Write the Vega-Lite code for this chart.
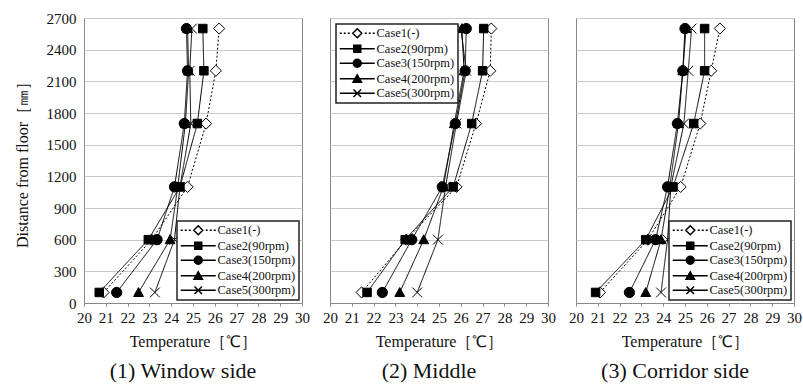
{
  "$schema": "https://vega.github.io/schema/vega-lite/v6.json",
  "background": "white",
  "padding": {"left": 13, "top": 10, "right": 2, "bottom": 0},
  "spacing": 28,
  "bounds": "flush",
  "config": {
    "font": "Liberation Serif",
    "view": {"stroke": "#888", "strokeWidth": 1},
    "axis": {"labelFont": "Liberation Serif", "labelFontSize": 15, "labelColor": "#111", "titleFont": "Liberation Serif", "titleFontSize": 16, "titleFontWeight": "normal", "titleColor": "#111", "labelOverlap": false, "labelFlush": false},
    "legend": {"strokeColor": "#222", "strokeWidth": 1.5, "fillColor": "white", "padding": 3},
    "title": {"font": "Liberation Serif", "fontSize": 22, "fontWeight": "normal", "color": "#111", "dx": -10}
  },
  "data": {"values": [
    {"panel": "W", "case": "Case1(-)", "dist": 100, "temp": 20.9},
    {"panel": "W", "case": "Case1(-)", "dist": 600, "temp": 23.1},
    {"panel": "W", "case": "Case1(-)", "dist": 1100, "temp": 24.75},
    {"panel": "W", "case": "Case1(-)", "dist": 1700, "temp": 25.6},
    {"panel": "W", "case": "Case1(-)", "dist": 2200, "temp": 26.05},
    {"panel": "W", "case": "Case1(-)", "dist": 2600, "temp": 26.2},
    {"panel": "W", "case": "Case2(90rpm)", "dist": 100, "temp": 20.7},
    {"panel": "W", "case": "Case2(90rpm)", "dist": 600, "temp": 22.95},
    {"panel": "W", "case": "Case2(90rpm)", "dist": 1100, "temp": 24.4},
    {"panel": "W", "case": "Case2(90rpm)", "dist": 1700, "temp": 25.2},
    {"panel": "W", "case": "Case2(90rpm)", "dist": 2200, "temp": 25.5},
    {"panel": "W", "case": "Case2(90rpm)", "dist": 2600, "temp": 25.45},
    {"panel": "W", "case": "Case3(150rpm)", "dist": 100, "temp": 21.5},
    {"panel": "W", "case": "Case3(150rpm)", "dist": 600, "temp": 23.35},
    {"panel": "W", "case": "Case3(150rpm)", "dist": 1100, "temp": 24.15},
    {"panel": "W", "case": "Case3(150rpm)", "dist": 1700, "temp": 24.6},
    {"panel": "W", "case": "Case3(150rpm)", "dist": 2200, "temp": 24.75},
    {"panel": "W", "case": "Case3(150rpm)", "dist": 2600, "temp": 24.7},
    {"panel": "W", "case": "Case4(200rpm)", "dist": 100, "temp": 22.5},
    {"panel": "W", "case": "Case4(200rpm)", "dist": 600, "temp": 23.95},
    {"panel": "W", "case": "Case4(200rpm)", "dist": 1100, "temp": 24.3},
    {"panel": "W", "case": "Case4(200rpm)", "dist": 1700, "temp": 24.65},
    {"panel": "W", "case": "Case4(200rpm)", "dist": 2200, "temp": 24.8},
    {"panel": "W", "case": "Case4(200rpm)", "dist": 2600, "temp": 24.75},
    {"panel": "W", "case": "Case5(300rpm)", "dist": 100, "temp": 23.25},
    {"panel": "W", "case": "Case5(300rpm)", "dist": 600, "temp": 24.15},
    {"panel": "W", "case": "Case5(300rpm)", "dist": 1100, "temp": 24.4},
    {"panel": "W", "case": "Case5(300rpm)", "dist": 1700, "temp": 24.9},
    {"panel": "W", "case": "Case5(300rpm)", "dist": 2200, "temp": 24.85},
    {"panel": "W", "case": "Case5(300rpm)", "dist": 2600, "temp": 24.95},
    {"panel": "M", "case": "Case1(-)", "dist": 100, "temp": 21.45},
    {"panel": "M", "case": "Case1(-)", "dist": 600, "temp": 23.5},
    {"panel": "M", "case": "Case1(-)", "dist": 1100, "temp": 25.8},
    {"panel": "M", "case": "Case1(-)", "dist": 1700, "temp": 26.7},
    {"panel": "M", "case": "Case1(-)", "dist": 2200, "temp": 27.35},
    {"panel": "M", "case": "Case1(-)", "dist": 2600, "temp": 27.4},
    {"panel": "M", "case": "Case2(90rpm)", "dist": 100, "temp": 21.7},
    {"panel": "M", "case": "Case2(90rpm)", "dist": 600, "temp": 23.45},
    {"panel": "M", "case": "Case2(90rpm)", "dist": 1100, "temp": 25.65},
    {"panel": "M", "case": "Case2(90rpm)", "dist": 1700, "temp": 26.5},
    {"panel": "M", "case": "Case2(90rpm)", "dist": 2200, "temp": 27.0},
    {"panel": "M", "case": "Case2(90rpm)", "dist": 2600, "temp": 27.05},
    {"panel": "M", "case": "Case3(150rpm)", "dist": 100, "temp": 22.4},
    {"panel": "M", "case": "Case3(150rpm)", "dist": 600, "temp": 23.75},
    {"panel": "M", "case": "Case3(150rpm)", "dist": 1100, "temp": 25.15},
    {"panel": "M", "case": "Case3(150rpm)", "dist": 1700, "temp": 25.75},
    {"panel": "M", "case": "Case3(150rpm)", "dist": 2200, "temp": 26.2},
    {"panel": "M", "case": "Case3(150rpm)", "dist": 2600, "temp": 26.25},
    {"panel": "M", "case": "Case4(200rpm)", "dist": 100, "temp": 23.2},
    {"panel": "M", "case": "Case4(200rpm)", "dist": 600, "temp": 24.3},
    {"panel": "M", "case": "Case4(200rpm)", "dist": 1100, "temp": 25.2},
    {"panel": "M", "case": "Case4(200rpm)", "dist": 1700, "temp": 25.7},
    {"panel": "M", "case": "Case4(200rpm)", "dist": 2200, "temp": 26.15},
    {"panel": "M", "case": "Case4(200rpm)", "dist": 2600, "temp": 26.05},
    {"panel": "M", "case": "Case5(300rpm)", "dist": 100, "temp": 24.0},
    {"panel": "M", "case": "Case5(300rpm)", "dist": 600, "temp": 24.95},
    {"panel": "M", "case": "Case5(300rpm)", "dist": 1100, "temp": 25.3},
    {"panel": "M", "case": "Case5(300rpm)", "dist": 1700, "temp": 25.8},
    {"panel": "M", "case": "Case5(300rpm)", "dist": 2200, "temp": 26.25},
    {"panel": "M", "case": "Case5(300rpm)", "dist": 2600, "temp": 26.0},
    {"panel": "C", "case": "Case1(-)", "dist": 100, "temp": 21.1},
    {"panel": "C", "case": "Case1(-)", "dist": 600, "temp": 23.3},
    {"panel": "C", "case": "Case1(-)", "dist": 1100, "temp": 24.8},
    {"panel": "C", "case": "Case1(-)", "dist": 1700, "temp": 25.7},
    {"panel": "C", "case": "Case1(-)", "dist": 2200, "temp": 26.2},
    {"panel": "C", "case": "Case1(-)", "dist": 2600, "temp": 26.6},
    {"panel": "C", "case": "Case2(90rpm)", "dist": 100, "temp": 20.9},
    {"panel": "C", "case": "Case2(90rpm)", "dist": 600, "temp": 23.2},
    {"panel": "C", "case": "Case2(90rpm)", "dist": 1100, "temp": 24.45},
    {"panel": "C", "case": "Case2(90rpm)", "dist": 1700, "temp": 25.4},
    {"panel": "C", "case": "Case2(90rpm)", "dist": 2200, "temp": 25.9},
    {"panel": "C", "case": "Case2(90rpm)", "dist": 2600, "temp": 25.9},
    {"panel": "C", "case": "Case3(150rpm)", "dist": 100, "temp": 22.45},
    {"panel": "C", "case": "Case3(150rpm)", "dist": 600, "temp": 23.65},
    {"panel": "C", "case": "Case3(150rpm)", "dist": 1100, "temp": 24.2},
    {"panel": "C", "case": "Case3(150rpm)", "dist": 1700, "temp": 24.65},
    {"panel": "C", "case": "Case3(150rpm)", "dist": 2200, "temp": 24.9},
    {"panel": "C", "case": "Case3(150rpm)", "dist": 2600, "temp": 25.0},
    {"panel": "C", "case": "Case4(200rpm)", "dist": 100, "temp": 23.2},
    {"panel": "C", "case": "Case4(200rpm)", "dist": 600, "temp": 23.9},
    {"panel": "C", "case": "Case4(200rpm)", "dist": 1100, "temp": 24.3},
    {"panel": "C", "case": "Case4(200rpm)", "dist": 1700, "temp": 24.7},
    {"panel": "C", "case": "Case4(200rpm)", "dist": 2200, "temp": 24.9},
    {"panel": "C", "case": "Case4(200rpm)", "dist": 2600, "temp": 25.05},
    {"panel": "C", "case": "Case5(300rpm)", "dist": 100, "temp": 23.9},
    {"panel": "C", "case": "Case5(300rpm)", "dist": 600, "temp": 24.2},
    {"panel": "C", "case": "Case5(300rpm)", "dist": 1100, "temp": 24.35},
    {"panel": "C", "case": "Case5(300rpm)", "dist": 1700, "temp": 24.95},
    {"panel": "C", "case": "Case5(300rpm)", "dist": 2200, "temp": 25.15},
    {"panel": "C", "case": "Case5(300rpm)", "dist": 2600, "temp": 25.3}
  ]},
  "hconcat": [
    {
      "width": 218, "height": 285,
      "title": {"text": "(1)  Window side", "orient": "bottom", "offset": 12},
      "transform": [{"filter": "datum.panel === 'W'"}],
      "encoding": {
        "x": {"field": "temp", "type": "quantitative", "scale": {"domain": [20, 30]}, "axis": {"values": [20,21,22,23,24,25,26,27,28,29,30], "format": "d", "labelOverlap": false, "labelFlush": false, "labelFont": "Liberation Serif", "labelFontSize": 15, "title": "Temperature［℃］", "titleFont": "Liberation Serif", "titleFontSize": 16, "grid": false, "tickSize": 3, "tickColor": "#888", "domainColor": "#888", "labelPadding": 4, "titlePadding": 8}},
        "y": {"field": "dist", "type": "quantitative", "scale": {"domain": [0, 2700]}, "axis": {"values": [0,300,600,900,1200,1500,1800,2100,2400,2700], "format": "d", "labelOverlap": false, "labelFlush": false, "labelFont": "Liberation Serif", "labelFontSize": 15, "title": "Distance from floor［㎜］", "titleFont": "Liberation Serif", "titleFontSize": 16, "ticks": false, "domain": false, "labelPadding": 8, "titlePadding": 16, "grid": true, "gridColor": "#c8c8c8"}}
      },
      "resolve": {"scale": {"shape": "independent", "fill": "independent"}},
      "layer": [
        {
          "mark": {"type": "line", "color": "black", "strokeWidth": 1},
          "encoding": {
            "detail": {"field": "case"},
            "strokeDash": {"field": "case", "type": "nominal", "scale": {"domain": ["Case1(-)", "Case2(90rpm)", "Case3(150rpm)", "Case4(200rpm)", "Case5(300rpm)"], "range": [[2,2],[1,0],[1,0],[1,0],[1,0]]}, "legend": null},
            "order": {"field": "dist", "type": "quantitative"}
          }
        },
        {
          "mark": {"type": "point", "filled": true, "size": 80, "stroke": "black", "strokeWidth": 1, "opacity": 1},
          "encoding": {
            "shape": {"field": "case", "type": "nominal", "scale": {"domain": ["Case1(-)", "Case2(90rpm)", "Case3(150rpm)", "Case4(200rpm)", "Case5(300rpm)"], "range": ["M0,-1.25L1.25,0L0,1.25L-1.25,0Z", "M-0.95,-0.95L0.95,-0.95L0.95,0.95L-0.95,0.95Z", "M-1.15,0A1.15,1.15,0,1,0,1.15,0A1.15,1.15,0,1,0,-1.15,0Z", "M0,-1.1L1.1,0.9L-1.1,0.9Z", "M-1.1,-1.1L1.1,1.1M-1.1,1.1L1.1,-1.1"]}, "legend": null},
            "fill": {"field": "case", "type": "nominal", "scale": {"domain": ["Case1(-)", "Case2(90rpm)", "Case3(150rpm)", "Case4(200rpm)", "Case5(300rpm)"], "range": ["white", "black", "black", "black", "black"]}, "legend": null}
          }
        },
        {
          "transform": [{"filter": "false"}],
          "mark": {"type": "point", "filled": true, "size": 100, "stroke": "black", "strokeWidth": 1, "opacity": 1},
          "encoding": {
            "shape": {"field": "case", "type": "nominal", "scale": {"domain": ["Case1(-)", "Case2(90rpm)", "Case3(150rpm)", "Case4(200rpm)", "Case5(300rpm)"], "range": ["M-3.5,0L-3.1,0M-2.7,0L-2.3,0M-1.9,0L-1.5,0M0,-0.9L0.9,0L0,0.9L-0.9,0ZM1.5,0L1.9,0M2.3,0L2.7,0M3.1,0L3.5,0", "M-3.5,0L3.5,0M-0.7,-0.7L0.7,-0.7L0.7,0.7L-0.7,0.7Z", "M-3.5,0L3.5,0M-0.8,0A0.8,0.8,0,1,0,0.8,0A0.8,0.8,0,1,0,-0.8,0Z", "M-3.5,0L3.5,0M0,-0.8L0.85,0.7L-0.85,0.7Z", "M-3.5,0L3.5,0M-0.75,-0.75L0.75,0.75M-0.75,0.75L0.75,-0.75"]},
              "legend": {"title": null, "orient": "bottom-right", "offset": 3, "labelFont": "Liberation Serif", "labelFontSize": 12.5, "labelColor": "#111", "symbolSize": 100, "symbolOffset": 12, "labelOffset": 13, "rowPadding": 0.5, "encode": {"symbols": {"stroke": {"value": "black"}, "strokeWidth": {"value": 1}}}}},
            "fill": {"field": "case", "type": "nominal", "scale": {"domain": ["Case1(-)", "Case2(90rpm)", "Case3(150rpm)", "Case4(200rpm)", "Case5(300rpm)"], "range": ["white", "black", "black", "black", "black"]},
              "legend": {"title": null, "orient": "bottom-right", "offset": 3, "labelFont": "Liberation Serif", "labelFontSize": 12.5, "labelColor": "#111", "symbolSize": 100, "symbolOffset": 12, "labelOffset": 13, "rowPadding": 0.5, "encode": {"symbols": {"stroke": {"value": "black"}, "strokeWidth": {"value": 1}}}}}
          }
        }
      ]
    },
    {
      "width": 218, "height": 285,
      "title": {"text": "(2)  Middle", "orient": "bottom", "offset": 12},
      "transform": [{"filter": "datum.panel === 'M'"}],
      "encoding": {
        "x": {"field": "temp", "type": "quantitative", "scale": {"domain": [20, 30]}, "axis": {"values": [20,21,22,23,24,25,26,27,28,29,30], "format": "d", "labelOverlap": false, "labelFlush": false, "labelFont": "Liberation Serif", "labelFontSize": 15, "title": "Temperature［℃］", "titleFont": "Liberation Serif", "titleFontSize": 16, "grid": false, "tickSize": 3, "tickColor": "#888", "domainColor": "#888", "labelPadding": 4, "titlePadding": 8}},
        "y": {"field": "dist", "type": "quantitative", "scale": {"domain": [0, 2700]}, "axis": {"values": [0,300,600,900,1200,1500,1800,2100,2400,2700], "title": null, "labels": false, "ticks": false, "domain": false, "grid": true, "gridColor": "#c8c8c8"}}
      },
      "resolve": {"scale": {"shape": "independent", "fill": "independent"}},
      "layer": [
        {
          "mark": {"type": "line", "color": "black", "strokeWidth": 1},
          "encoding": {
            "detail": {"field": "case"},
            "strokeDash": {"field": "case", "type": "nominal", "scale": {"domain": ["Case1(-)", "Case2(90rpm)", "Case3(150rpm)", "Case4(200rpm)", "Case5(300rpm)"], "range": [[2,2],[1,0],[1,0],[1,0],[1,0]]}, "legend": null},
            "order": {"field": "dist", "type": "quantitative"}
          }
        },
        {
          "mark": {"type": "point", "filled": true, "size": 80, "stroke": "black", "strokeWidth": 1, "opacity": 1},
          "encoding": {
            "shape": {"field": "case", "type": "nominal", "scale": {"domain": ["Case1(-)", "Case2(90rpm)", "Case3(150rpm)", "Case4(200rpm)", "Case5(300rpm)"], "range": ["M0,-1.25L1.25,0L0,1.25L-1.25,0Z", "M-0.95,-0.95L0.95,-0.95L0.95,0.95L-0.95,0.95Z", "M-1.15,0A1.15,1.15,0,1,0,1.15,0A1.15,1.15,0,1,0,-1.15,0Z", "M0,-1.1L1.1,0.9L-1.1,0.9Z", "M-1.1,-1.1L1.1,1.1M-1.1,1.1L1.1,-1.1"]}, "legend": null},
            "fill": {"field": "case", "type": "nominal", "scale": {"domain": ["Case1(-)", "Case2(90rpm)", "Case3(150rpm)", "Case4(200rpm)", "Case5(300rpm)"], "range": ["white", "black", "black", "black", "black"]}, "legend": null}
          }
        },
        {
          "transform": [{"filter": "false"}],
          "mark": {"type": "point", "filled": true, "size": 100, "stroke": "black", "strokeWidth": 1, "opacity": 1},
          "encoding": {
            "shape": {"field": "case", "type": "nominal", "scale": {"domain": ["Case1(-)", "Case2(90rpm)", "Case3(150rpm)", "Case4(200rpm)", "Case5(300rpm)"], "range": ["M-3.5,0L-3.1,0M-2.7,0L-2.3,0M-1.9,0L-1.5,0M0,-0.9L0.9,0L0,0.9L-0.9,0ZM1.5,0L1.9,0M2.3,0L2.7,0M3.1,0L3.5,0", "M-3.5,0L3.5,0M-0.7,-0.7L0.7,-0.7L0.7,0.7L-0.7,0.7Z", "M-3.5,0L3.5,0M-0.8,0A0.8,0.8,0,1,0,0.8,0A0.8,0.8,0,1,0,-0.8,0Z", "M-3.5,0L3.5,0M0,-0.8L0.85,0.7L-0.85,0.7Z", "M-3.5,0L3.5,0M-0.75,-0.75L0.75,0.75M-0.75,0.75L0.75,-0.75"]},
              "legend": {"title": null, "orient": "top-left", "offset": 6, "labelFont": "Liberation Serif", "labelFontSize": 12.5, "labelColor": "#111", "symbolSize": 100, "symbolOffset": 12, "labelOffset": 13, "rowPadding": 0.5, "encode": {"symbols": {"stroke": {"value": "black"}, "strokeWidth": {"value": 1}}}}},
            "fill": {"field": "case", "type": "nominal", "scale": {"domain": ["Case1(-)", "Case2(90rpm)", "Case3(150rpm)", "Case4(200rpm)", "Case5(300rpm)"], "range": ["white", "black", "black", "black", "black"]},
              "legend": {"title": null, "orient": "top-left", "offset": 6, "labelFont": "Liberation Serif", "labelFontSize": 12.5, "labelColor": "#111", "symbolSize": 100, "symbolOffset": 12, "labelOffset": 13, "rowPadding": 0.5, "encode": {"symbols": {"stroke": {"value": "black"}, "strokeWidth": {"value": 1}}}}}
          }
        }
      ]
    },
    {
      "width": 218, "height": 285,
      "title": {"text": "(3)  Corridor side", "orient": "bottom", "offset": 12},
      "transform": [{"filter": "datum.panel === 'C'"}],
      "encoding": {
        "x": {"field": "temp", "type": "quantitative", "scale": {"domain": [20, 30]}, "axis": {"values": [20,21,22,23,24,25,26,27,28,29,30], "format": "d", "labelOverlap": false, "labelFlush": false, "labelFont": "Liberation Serif", "labelFontSize": 15, "title": "Temperature［℃］", "titleFont": "Liberation Serif", "titleFontSize": 16, "grid": false, "tickSize": 3, "tickColor": "#888", "domainColor": "#888", "labelPadding": 4, "titlePadding": 8}},
        "y": {"field": "dist", "type": "quantitative", "scale": {"domain": [0, 2700]}, "axis": {"values": [0,300,600,900,1200,1500,1800,2100,2400,2700], "title": null, "labels": false, "ticks": false, "domain": false, "grid": true, "gridColor": "#c8c8c8"}}
      },
      "resolve": {"scale": {"shape": "independent", "fill": "independent"}},
      "layer": [
        {
          "mark": {"type": "line", "color": "black", "strokeWidth": 1},
          "encoding": {
            "detail": {"field": "case"},
            "strokeDash": {"field": "case", "type": "nominal", "scale": {"domain": ["Case1(-)", "Case2(90rpm)", "Case3(150rpm)", "Case4(200rpm)", "Case5(300rpm)"], "range": [[2,2],[1,0],[1,0],[1,0],[1,0]]}, "legend": null},
            "order": {"field": "dist", "type": "quantitative"}
          }
        },
        {
          "mark": {"type": "point", "filled": true, "size": 80, "stroke": "black", "strokeWidth": 1, "opacity": 1},
          "encoding": {
            "shape": {"field": "case", "type": "nominal", "scale": {"domain": ["Case1(-)", "Case2(90rpm)", "Case3(150rpm)", "Case4(200rpm)", "Case5(300rpm)"], "range": ["M0,-1.25L1.25,0L0,1.25L-1.25,0Z", "M-0.95,-0.95L0.95,-0.95L0.95,0.95L-0.95,0.95Z", "M-1.15,0A1.15,1.15,0,1,0,1.15,0A1.15,1.15,0,1,0,-1.15,0Z", "M0,-1.1L1.1,0.9L-1.1,0.9Z", "M-1.1,-1.1L1.1,1.1M-1.1,1.1L1.1,-1.1"]}, "legend": null},
            "fill": {"field": "case", "type": "nominal", "scale": {"domain": ["Case1(-)", "Case2(90rpm)", "Case3(150rpm)", "Case4(200rpm)", "Case5(300rpm)"], "range": ["white", "black", "black", "black", "black"]}, "legend": null}
          }
        },
        {
          "transform": [{"filter": "false"}],
          "mark": {"type": "point", "filled": true, "size": 100, "stroke": "black", "strokeWidth": 1, "opacity": 1},
          "encoding": {
            "shape": {"field": "case", "type": "nominal", "scale": {"domain": ["Case1(-)", "Case2(90rpm)", "Case3(150rpm)", "Case4(200rpm)", "Case5(300rpm)"], "range": ["M-3.5,0L-3.1,0M-2.7,0L-2.3,0M-1.9,0L-1.5,0M0,-0.9L0.9,0L0,0.9L-0.9,0ZM1.5,0L1.9,0M2.3,0L2.7,0M3.1,0L3.5,0", "M-3.5,0L3.5,0M-0.7,-0.7L0.7,-0.7L0.7,0.7L-0.7,0.7Z", "M-3.5,0L3.5,0M-0.8,0A0.8,0.8,0,1,0,0.8,0A0.8,0.8,0,1,0,-0.8,0Z", "M-3.5,0L3.5,0M0,-0.8L0.85,0.7L-0.85,0.7Z", "M-3.5,0L3.5,0M-0.75,-0.75L0.75,0.75M-0.75,0.75L0.75,-0.75"]},
              "legend": {"title": null, "orient": "bottom-right", "offset": 3, "labelFont": "Liberation Serif", "labelFontSize": 12.5, "labelColor": "#111", "symbolSize": 100, "symbolOffset": 12, "labelOffset": 13, "rowPadding": 0.5, "encode": {"symbols": {"stroke": {"value": "black"}, "strokeWidth": {"value": 1}}}}},
            "fill": {"field": "case", "type": "nominal", "scale": {"domain": ["Case1(-)", "Case2(90rpm)", "Case3(150rpm)", "Case4(200rpm)", "Case5(300rpm)"], "range": ["white", "black", "black", "black", "black"]},
              "legend": {"title": null, "orient": "bottom-right", "offset": 3, "labelFont": "Liberation Serif", "labelFontSize": 12.5, "labelColor": "#111", "symbolSize": 100, "symbolOffset": 12, "labelOffset": 13, "rowPadding": 0.5, "encode": {"symbols": {"stroke": {"value": "black"}, "strokeWidth": {"value": 1}}}}}
          }
        }
      ]
    }
  ]
}
